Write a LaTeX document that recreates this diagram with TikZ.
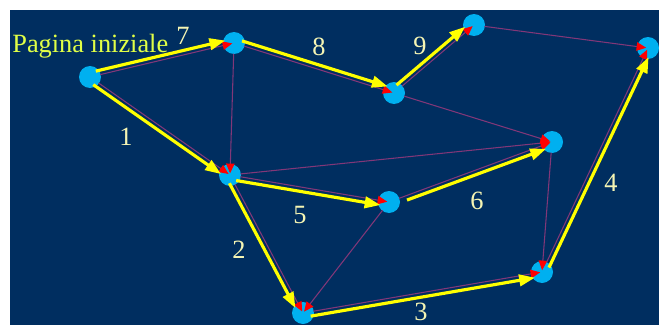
\documentclass[tikz,border=0pt]{standalone}
\usepackage{fontspec}
\setmainfont{Liberation Serif}
\usetikzlibrary{arrows.meta,calc}
\definecolor{bgblue}{RGB}{0,46,96}
\definecolor{sitecol}{RGB}{0,176,240}
\definecolor{thincol}{RGB}{130,55,120}
\definecolor{pathcol}{RGB}{255,255,0}
\definecolor{numcol}{RGB}{245,245,180}
\definecolor{startcol}{RGB}{225,255,70}
\begin{document}
\begin{tikzpicture}[x=0.02cm,y=-0.02cm,
  site/.style={circle,fill=sitecol,draw=none,minimum size=0.44cm,inner sep=0pt},
  thinedge/.style={draw=thincol,line width=0.6pt,shorten <=6pt,shorten >=1pt,
    -{Triangle[length=5.5pt,width=4.8pt,color=red,fill=red]}},
  yedge/.style={draw=pathcol,line width=1.8pt,shorten <=4pt,shorten >=4.5pt,
    -{Triangle[length=9pt,width=6.5pt,color=pathcol,fill=pathcol]}},
  num/.style={text=numcol,font=\fontsize{15pt}{18pt}\selectfont,inner sep=0pt},
  starttext/.style={text=startcol,font=\fontsize{15pt}{18pt}\selectfont,inner sep=0pt}]
\clip (0,0) rectangle (659,325);
\fill[white] (0,0) rectangle (659,325);
\fill[bgblue] (10,10) rectangle (659,325);
% sites
\node[site] (A) at (90,77) {};
\node[site] (B) at (234,43) {};
\node[site] (C) at (230,175) {};
\node[site] (D) at (394,93) {};
\node[site] (E) at (474,25) {};
\node[site] (F) at (648,48) {};
\node[site] (G) at (552,142) {};
\node[site] (H) at (389,202) {};
\node[site] (I) at (542,272) {};
\node[site] (J) at (303,313) {};
% thin links
\draw[thinedge] (A.center) -- (B.center);
\draw[thinedge] (A.center) -- (C.center);
\draw[thinedge] (B.center) -- (C.center);
\draw[thinedge] (B.center) -- (D.center);
\draw[thinedge] (D.center) -- (E.center);
\draw[thinedge] (E.center) -- (F.center);
\draw[thinedge] (D.center) -- (G.center);
\draw[thinedge] (C.center) -- (G.center);
\draw[thinedge] (C.center) -- (H.center);
\draw[thinedge] (H.center) -- (G.center);
\draw[thinedge] (C.center) -- (J.center);
\draw[thinedge] (H.center) -- (J.center);
\draw[thinedge] (G.center) -- (I.center);
\draw[thinedge] (J.center) -- (I.center);
\draw[thinedge] (I.center) -- (F.center);
% yellow path
\draw[yedge] ($(A.center)!2.5pt!90:(B.center)$) -- ($(B.center)!2.5pt!-90:(A.center)$);
\draw[yedge] ($(A.center)!2.5pt!-90:(C.center)$) -- ($(C.center)!2.5pt!90:(A.center)$);
\draw[yedge] ($(B.center)!2.5pt!90:(D.center)$) -- ($(D.center)!2.5pt!-90:(B.center)$);
\draw[yedge] ($(D.center)!2.5pt!90:(E.center)$) -- ($(E.center)!2.5pt!-90:(D.center)$);
\draw[yedge] ($(C.center)!2.5pt!-90:(H.center)$) -- ($(H.center)!2.5pt!90:(C.center)$);
\draw[yedge,shorten <=10pt] ($(H.center)!2.5pt!-90:(G.center)$) -- ($(G.center)!2.5pt!90:(H.center)$);
\draw[yedge] ($(C.center)!2.5pt!-90:(J.center)$) -- ($(J.center)!2.5pt!90:(C.center)$);
\draw[yedge] ($(J.center)!2.5pt!-90:(I.center)$) -- ($(I.center)!2.5pt!90:(J.center)$);
\draw[yedge] ($(I.center)!2.5pt!-90:(F.center)$) -- ($(F.center)!2.5pt!90:(I.center)$);
% labels
\node[starttext,anchor=base west] (start) at (12,52) {Pagina iniziale};
\node[num] (n7) at (183,36) {7};
\node[num] (n8) at (319,47) {8};
\node[num] (n9) at (420,46) {9};
\node[num] (n1) at (126,137) {1};
\node[num] (n2) at (239,250) {2};
\node[num] (n5) at (300,215) {5};
\node[num] (n6) at (477,201) {6};
\node[num] (n4) at (611,183) {4};
\node[num] (n3) at (421,312) {3};
\end{tikzpicture}
\end{document}
